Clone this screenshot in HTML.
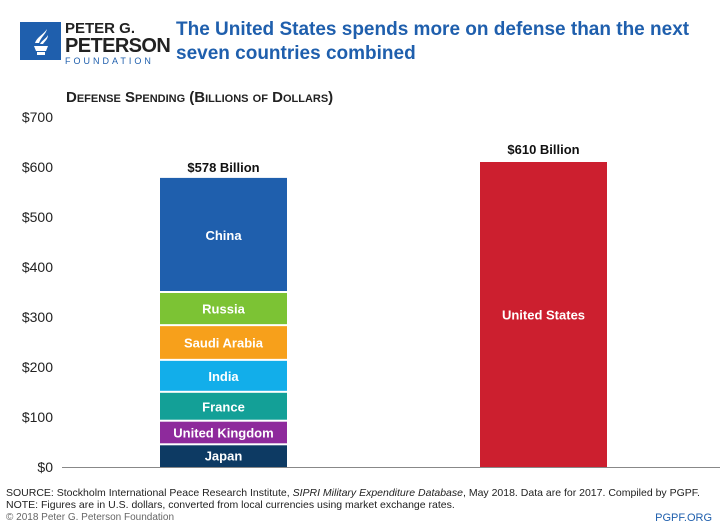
<!DOCTYPE html>
<html><head><meta charset="utf-8"><style>
body{margin:0;width:720px;height:529px;background:#fff;font-family:"Liberation Sans",sans-serif;overflow:hidden;position:relative}
.logo{position:absolute;left:20px;top:22px;width:41px;height:38px;background:#1f5fad}
.t{position:absolute}
</style></head><body>
<div class="logo">
<svg width="41" height="38"><path d="M14 24h14l-2 5h-10z M17 30h8v3h-8z" fill="#fff"/><path d="M15 21c2-6 8-8 12-14c-1 5-6 8-8 14z M20 22c2-4 6-5 8-9c0 4-3 6-5 9z" fill="#fff"/></svg>
</div>
<div class="t" style="left:65px;top:21px;line-height:1">
<div style="font-size:15px;font-weight:bold;color:#222">PETER G.</div>
<div style="font-size:20px;font-weight:bold;color:#222;letter-spacing:-0.6px">PETERSON</div>
<div style="font-size:9px;color:#1f5fad;letter-spacing:3px;margin-top:1px">FOUNDATION</div>
</div>
<div class="t" style="left:176px;top:18px;font-size:19px;font-weight:bold;color:#1f5fad;line-height:24px">The United States spends more on defense than the next<br>seven countries combined</div>
<div class="t" style="left:66px;top:89px;font-size:15px;font-weight:bold;color:#222;font-variant:small-caps">Defense Spending (Billions of Dollars)</div>
<svg class="t" style="left:0;top:0" width="720" height="529" id="chart"></svg>
<div class="t" style="left:6px;top:487px;font-size:10.5px;color:#222;line-height:12px">SOURCE: Stockholm International Peace Research Institute, <i>SIPRI Military Expenditure Database</i>, May 2018. Data are for 2017. Compiled by PGPF.<br>NOTE: Figures are in U.S. dollars, converted from local currencies using market exchange rates.</div>
<div class="t" style="left:6px;top:512px;font-size:10px;color:#666">© 2018 Peter G. Peterson Foundation</div>
<div class="t" style="right:8px;top:512px;font-size:11px;color:#1f5fad">PGPF.ORG</div>
<script>
const stackCountries=["Japan","United Kingdom","France","India","Saudi Arabia","Russia","China"];
const stackValues=[45.4,47.2,57.8,63.9,69.4,66.3,228.2];
const stackColors=["#0d3a63","#8e2a9c","#13a097","#12aeea","#f7a01b","#7cc334","#1f5fad"];
const usValue=610;
const yTicks=[0,100,200,300,400,500,600,700];
const svg=document.getElementById('chart');
const NS='http://www.w3.org/2000/svg';
const y=v=>467-v*0.5;
function mk(t,a,txt){const e=document.createElementNS(NS,t);for(const k in a)e.setAttribute(k,a[k]);if(txt!=null)e.textContent=txt;svg.appendChild(e);return e;}
yTicks.forEach(v=>{const e=mk('text',{x:53,y:y(v)+5,'text-anchor':'end','font-size':14,fill:'#222'},'$'+v);

});
let cum=0;
stackValues.forEach((v,i)=>{const top=y(cum+v),bot=y(cum);
const r=mk('rect',{x:160,y:top+(i<stackValues.length-1?1:0),width:127,height:bot-top-(i<stackValues.length-1?1:0)-(i>0?1:0),fill:stackColors[i]});


const l=mk('text',{x:223.5,y:(top+bot)/2+5,'text-anchor':'middle','font-size':13,'font-weight':'bold',fill:'#fff'},stackCountries[i]);


cum+=v;});
const st=mk('text',{x:223.5,y:y(cum)-6,'text-anchor':'middle','font-size':13,'font-weight':'bold',fill:'#111'},'$'+Math.round(cum)+' Billion');


const us=mk('rect',{x:480,y:y(usValue),width:127,height:y(0)-y(usValue),fill:'#cc1f2f'});


const ul=mk('text',{x:543.5,y:(y(usValue)+y(0))/2+5,'text-anchor':'middle','font-size':13,'font-weight':'bold',fill:'#fff'},'United States');


const ut=mk('text',{x:543.5,y:y(usValue)-8,'text-anchor':'middle','font-size':13,'font-weight':'bold',fill:'#111'},'$'+usValue+' Billion');


const ax=mk('line',{x1:62,x2:720,y1:467.5,y2:467.5,stroke:'#888','stroke-width':1});


</script>
</body></html>
